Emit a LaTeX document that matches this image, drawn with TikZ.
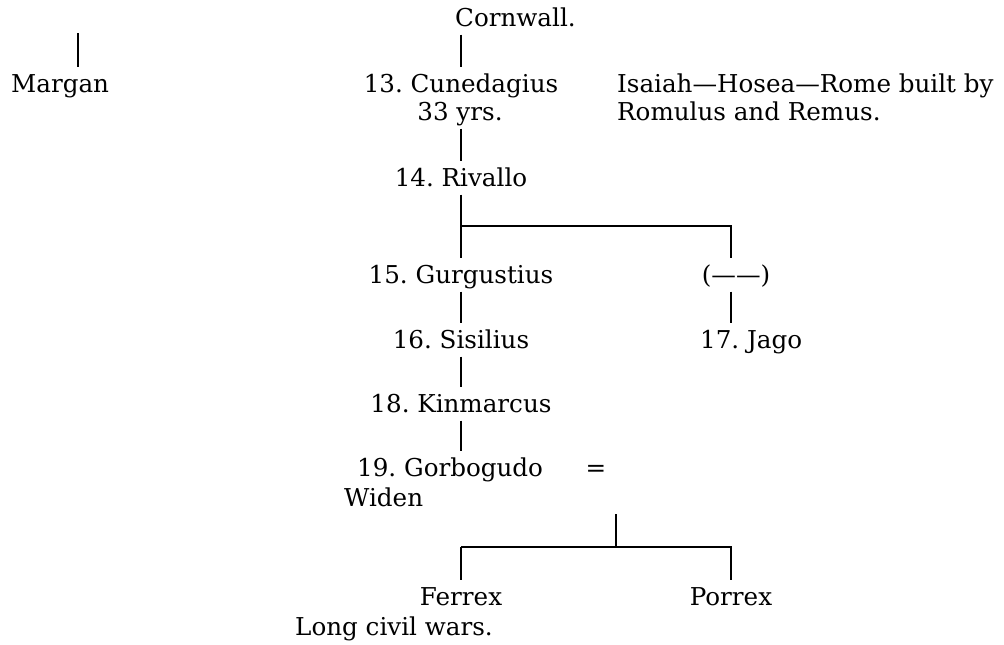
\documentclass[tikz,border=0pt]{standalone}
\usepackage{fontspec}
\setmainfont{DejaVu Serif}
\frenchspacing
\begin{document}
\begin{tikzpicture}[x=1pt,y=-1pt,
  lbl/.style={inner sep=0pt, text height=18pt, text depth=6pt, font=\fontsize{24.6}{28}\selectfont},
  cx/.style={lbl, anchor=base},
  lx/.style={lbl, anchor=base west},
  conn/.style={line width=2pt, shorten <=2.5pt, shorten >=7pt},
  plain/.style={line width=2pt}]
\useasboundingbox (0,0) rectangle (1004,645);
% nodes
\node[lx] (mar) at (11,92) {Margan};
\node[lx] (corn) at (455,26) {Cornwall.};
\node[cx] (cun) at (461,92) {13. Cunedagius};
\node[cx] (yrs) at (460,120) {33 yrs.};
\node[lx] (isa) at (617,92) {Isaiah—Hosea—Rome built by};
\node[lx] (rom) at (617,120) {Romulus and Remus.};
\node[cx] (riv) at (461,186) {14. Rivallo};
\node[cx] (gur) at (461,283) {15. Gurgustius};
\node[cx] (par) at (736,283) {(——)};
\node[cx] (sis) at (461,348) {16. Sisilius};
\node[lx] (jag) at (700,348) {17. Jago};
\node[cx] (kin) at (461,412) {18. Kinmarcus};
\node[lx] (gor) at (357,476) {19. Gorbogudo};
\node[cx] (eq) at (596,476) {=};
\node[lx] (wid) at (344,506) {Widen};
\node[cx] (fer) at (461,605) {Ferrex};
\node[cx] (por) at (731,605) {Porrex};
\node[lx] (lcw) at (295,635) {Long civil wars.};
% free ends
\coordinate (mtop) at (78,33);
\coordinate (br) at (461,226);
\coordinate (m) at (616,514);
\coordinate (mj) at (616,547);
% connectors
\draw[conn, shorten <=0pt] (mtop) -- (mtop |- mar.north);
\draw[conn] (corn.south -| cun.north) -- (cun.north);
\draw[conn] (yrs.south -| cun.north) -- (riv.north);
\draw[conn] (riv.south) -- (gur.north);
\draw[conn, shorten <=0pt] (br) -- ([xshift=-5pt]par.north |- br) -- ([xshift=-5pt]par.north);
\draw[conn] ([xshift=-5pt]par.south) -- ([xshift=-5pt]par.south |- jag.north);
\draw[conn] (gur.south) -- (sis.north);
\draw[conn] (sis.south) -- (kin.north);
\draw[conn] (kin.south) -- (kin.south |- gor.north);
\draw[plain] (m) -- (mj);
\draw[conn, shorten <=0pt] (fer.north |- mj) -- (fer.north);
\draw[conn, shorten <=0pt] (fer.north |- mj) -- (por.north |- mj) -- (por.north);
\end{tikzpicture}
\end{document}
